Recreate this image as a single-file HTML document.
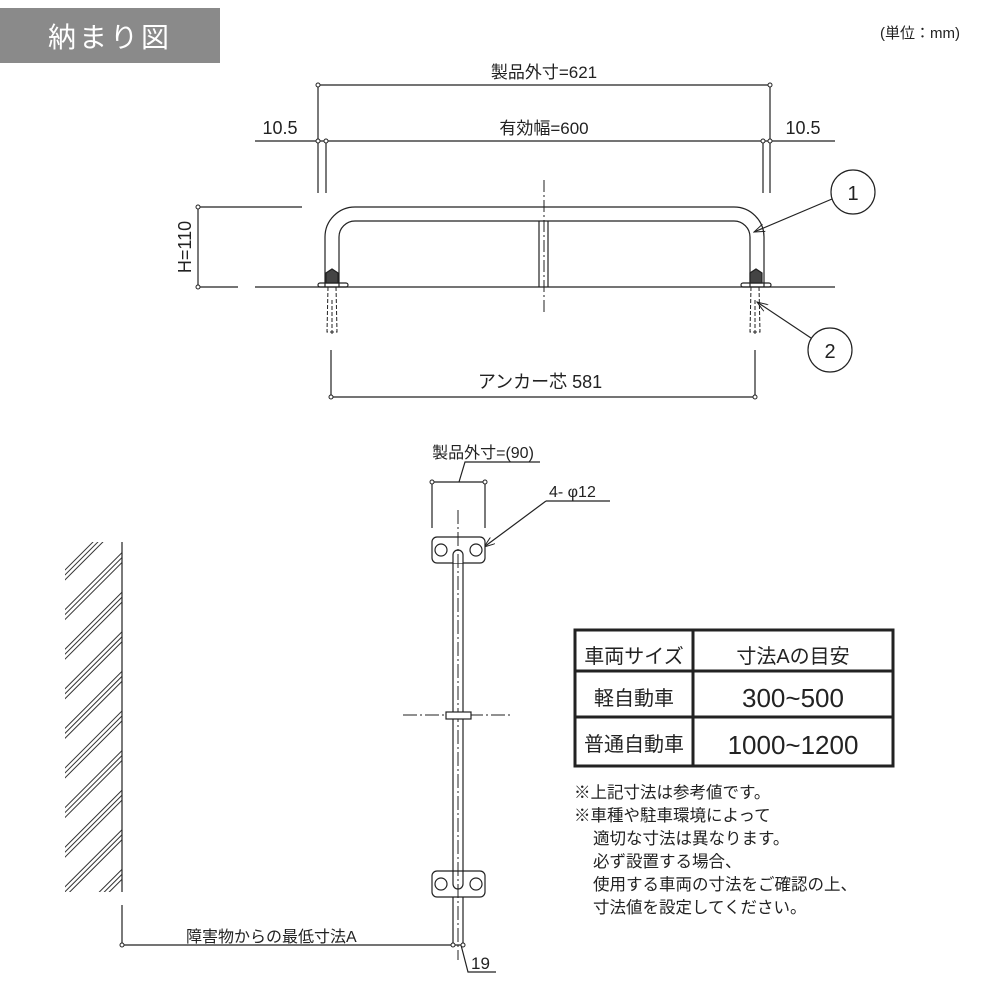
<!DOCTYPE html>
<html><head><meta charset="utf-8"><style>
html,body{margin:0;padding:0;background:#fff;}
svg{display:block;}
text{font-family:"Liberation Sans","Noto Sans CJK JP",sans-serif;fill:#222;}
</style></head><body>
<svg width="1000" height="1000" viewBox="0 0 1000 1000" xmlns="http://www.w3.org/2000/svg">
<defs>
<pattern id="h" patternUnits="userSpaceOnUse" width="200" height="28" patternTransform="rotate(-45)">
<line x1="0" y1="1" x2="200" y2="1" stroke="#333" stroke-width="1"/>
<line x1="0" y1="4.5" x2="200" y2="4.5" stroke="#333" stroke-width="1"/>
<line x1="0" y1="8" x2="200" y2="8" stroke="#333" stroke-width="1"/>
</pattern>
<marker id="ar" markerWidth="12" markerHeight="8" refX="11" refY="4" orient="auto" markerUnits="userSpaceOnUse"><path d="M0,0 L11,4 L0,8" fill="none" stroke="#222" stroke-width="1"/></marker>
</defs>
<rect x="0" y="8" width="220" height="55" fill="#8a8a8a"/>
<text x="48" y="47" font-size="28" style="fill:#fff" letter-spacing="3">納まり図</text>
<text x="880" y="38" font-size="15">(単位：mm)</text>

<g stroke="#222" stroke-width="1.2" fill="none">
<line x1="318" y1="85" x2="770" y2="85"/>
<line x1="255" y1="141" x2="835" y2="141"/>
<line x1="318" y1="85" x2="318" y2="193"/>
<line x1="770" y1="85" x2="770" y2="193"/>
<line x1="326" y1="141" x2="326" y2="193"/>
<line x1="763" y1="141" x2="763" y2="193"/>
<path d="M325,287 V237 A30,30 0 0 1 355,207 H734 A30,30 0 0 1 764,237 V287"/>
<path d="M339,287 V237 A16,16 0 0 1 355,221 H734 A16,16 0 0 1 750,237 V287"/>
<line x1="539" y1="221" x2="539" y2="287"/>
<line x1="548" y1="221" x2="548" y2="287"/>
<line x1="544" y1="180" x2="544" y2="312" stroke-dasharray="12,3,2,3" stroke-width="1"/>
<line x1="255" y1="287" x2="835" y2="287"/>
<rect x="318" y="283" width="30" height="4" rx="2"/>
<rect x="741" y="283" width="30" height="4" rx="2"/>
<path d="M326,283 V273 L332,269 L338,273 V283 Z" fill="#444"/>
<path d="M750,283 V273 L756,269 L762,273 V283 Z" fill="#444"/>
<path d="M328,287 L327,332 H337 L336,287 M332,300 V336 M751,287 L750,332 H760 L759,287 M755,300 V336" stroke-dasharray="4,2" stroke-width="1"/>
<line x1="198" y1="207" x2="198" y2="287"/>
<line x1="198" y1="207" x2="302" y2="207"/>
<line x1="198" y1="287" x2="238" y2="287"/>
<line x1="331" y1="350" x2="331" y2="397"/>
<line x1="755" y1="350" x2="755" y2="397"/>
<line x1="331" y1="397" x2="755" y2="397"/>
<circle cx="853" cy="192" r="22"/>
<circle cx="830" cy="350" r="22"/>
<line x1="832" y1="199" x2="754" y2="232" marker-end="url(#ar)"/>
<line x1="811" y1="338" x2="757" y2="302" marker-end="url(#ar)"/>
</g>
<g fill="#fff" stroke="#222" stroke-width="1">
<circle cx="318" cy="85" r="2"/><circle cx="770" cy="85" r="2"/>
<circle cx="318" cy="141" r="2"/><circle cx="326" cy="141" r="2"/><circle cx="763" cy="141" r="2"/><circle cx="770" cy="141" r="2"/>
<circle cx="198" cy="207" r="2"/><circle cx="198" cy="287" r="2"/>
<circle cx="331" cy="397" r="2"/><circle cx="755" cy="397" r="2"/>
</g>
<text x="544" y="78" font-size="17" text-anchor="middle">製品外寸=621</text>
<text x="544" y="134" font-size="17" text-anchor="middle">有効幅=600</text>
<text x="280" y="134" font-size="18" text-anchor="middle">10.5</text>
<text x="803" y="134" font-size="18" text-anchor="middle">10.5</text>
<text x="540" y="388" font-size="18" text-anchor="middle">アンカー芯 581</text>
<text transform="translate(191,247) rotate(-90)" font-size="18" text-anchor="middle">H=110</text>
<text x="853" y="200" font-size="20" text-anchor="middle">1</text>
<text x="830" y="358" font-size="20" text-anchor="middle">2</text>

<rect x="65" y="542" width="57" height="350" fill="url(#h)"/>
<g stroke="#222" stroke-width="1.2" fill="none">
<line x1="122" y1="542" x2="122" y2="892"/>
<line x1="432" y1="482" x2="485" y2="482"/>
<line x1="432" y1="482" x2="432" y2="528"/>
<line x1="485" y1="482" x2="485" y2="528"/>
<polyline points="459,482 465,462 540,462"/>
<polyline points="546,501 610,501" />
<line x1="546" y1="501" x2="484" y2="547" marker-end="url(#ar)"/>
<path d="M453,945 V555 A5,5 0 0 1 463,555 V945"/>
<rect x="432" y="537" width="53" height="26" rx="5" fill="#fff"/>
<path d="M453,563 V555 A5,5 0 0 1 463,555 V563" fill="#fff"/>
<circle cx="441" cy="550" r="6"/><circle cx="476" cy="550" r="6"/>
<rect x="432" y="871" width="53" height="26" rx="5" fill="#fff"/>
<path d="M453,871 V884 A5,5 0 0 0 463,884 V871"/>
<circle cx="441" cy="884" r="6"/><circle cx="476" cy="884" r="6"/>
<line x1="458" y1="510" x2="458" y2="960" stroke-dasharray="14,3,2,3" stroke-width="1"/>
<line x1="403" y1="715" x2="512" y2="715" stroke-dasharray="14,3,2,3" stroke-width="1"/>
<rect x="446" y="712" width="25" height="7" fill="#fff"/>
<line x1="122" y1="905" x2="122" y2="945"/>
<line x1="122" y1="945" x2="463" y2="945"/>
<polyline points="461,945 468,972 496,972"/>
<rect x="575" y="630" width="318" height="136" stroke-width="3"/>
<line x1="575" y1="671" x2="893" y2="671" stroke-width="3"/>
<line x1="575" y1="717" x2="893" y2="717" stroke-width="3"/>
<line x1="693" y1="630" x2="693" y2="766" stroke-width="3"/>
</g>
<g fill="#fff" stroke="#222" stroke-width="1">
<circle cx="432" cy="482" r="2"/><circle cx="485" cy="482" r="2"/>
<circle cx="122" cy="945" r="2"/><circle cx="453" cy="945" r="2"/><circle cx="463" cy="945" r="2"/>
</g>
<text x="483" y="458" font-size="16" text-anchor="middle">製品外寸=(90)</text>
<text x="549" y="497" font-size="16">4- φ12</text>
<text x="186" y="942" font-size="16">障害物からの最低寸法A</text>
<text x="471" y="969" font-size="17">19</text>
<text x="634" y="663" font-size="20" text-anchor="middle">車両サイズ</text>
<text x="793" y="663" font-size="20" text-anchor="middle">寸法Aの目安</text>
<text x="634" y="705" font-size="20" text-anchor="middle">軽自動車</text>
<text x="793" y="707" font-size="26" text-anchor="middle">300~500</text>
<text x="634" y="751" font-size="20" text-anchor="middle">普通自動車</text>
<text x="793" y="754" font-size="26" text-anchor="middle">1000~1200</text>
<g font-size="16.5">
<text x="574" y="798">※上記寸法は参考値です。</text>
<text x="574" y="821">※車種や駐車環境によって</text>
<text x="593" y="844">適切な寸法は異なります。</text>
<text x="593" y="867">必ず設置する場合、</text>
<text x="593" y="890">使用する車両の寸法をご確認の上、</text>
<text x="593" y="913">寸法値を設定してください。</text>
</g>
</svg>
</body></html>
